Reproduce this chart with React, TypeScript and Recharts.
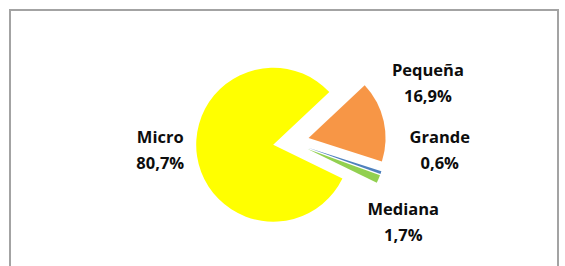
import { PieChart, Pie, Cell } from 'recharts'

// Distribución de empresas por tamaño
const categories = ['Micro', 'Pequeña', 'Grande', 'Mediana']
const shares = [80.7, 16.9, 0.6, 1.7]
const colors = ['#FFFF00', '#F79646', '#4F81BD', '#92D050']

const data = categories.map((name, i) => ({ name, value: shares[i] }))

const W = 565
const H = 266
const CX = 291
const CY = 142
const R = 77
const START = 334 // slices run clockwise from here
const EXPLODE = 18

const total = shares.reduce((a, b) => a + b, 0)
const mids = (() => {
  let acc = 0
  return shares.map((v) => {
    const m = START - ((acc + v / 2) / total) * 360
    acc += v
    return m
  })
})()
const rad = Math.PI / 180

// label placement relative to the slice mid angle (Excel "best fit" look)
const labelPlace: Record<string, { dA: number; r: number }> = {
  Micro: { dA: -5, r: 131 },
  Pequeña: { dA: 10.5, r: 149 },
  Grande: { dA: 15.7, r: 149 },
  Mediana: { dA: -12.6, r: 138 },
}

const fmt = (v: number) => v.toFixed(1).replace('.', ',') + '%'

const renderLabel = (p: any) => {
  const place = labelPlace[p.name]
  const a = (p.midAngle + place.dA) * rad
  const x = p.cx + place.r * Math.cos(a)
  const y = p.cy - place.r * Math.sin(a)
  return (
    <text
      x={x}
      y={y}
      textAnchor="middle"
      fill="#0d0d0d"
      fontFamily="'Open Sans', sans-serif"
      fontWeight={700}
      fontSize={16.5}
    >
      <tspan x={x} y={y - 7}>{p.name}</tspan>
      <tspan x={x} y={y + 19}>{fmt(p.value)}</tspan>
    </text>
  )
}

export default function App() {
  return (
    <div style={{ position: 'absolute', left: 0, top: 0, width: W, height: H, background: '#fff', overflow: 'hidden' }}>
      <div
        style={{
          position: 'absolute',
          left: 9,
          top: 9,
          width: 546,
          height: 300,
          border: '2px solid #a3a3a3',
        }}
      />
      <div style={{ position: 'absolute', left: 0, top: 0 }}>
        <PieChart width={W} height={H} margin={{ top: 0, right: 0, bottom: 0, left: 0 }}>
          {categories.map((name, i) => (
            <Pie
              key={name}
              data={data}
              dataKey="value"
              nameKey="name"
              cx={CX + EXPLODE * Math.cos(mids[i] * rad)}
              cy={CY - EXPLODE * Math.sin(mids[i] * rad)}
              outerRadius={R}
              startAngle={START}
              endAngle={START - 360}
              stroke="none"
              isAnimationActive={false}
            >
              {data.map((d, j) => (
                <Cell key={d.name} fill={j === i ? colors[j] : 'none'} />
              ))}
            </Pie>
          ))}
          <Pie
            data={data}
            dataKey="value"
            nameKey="name"
            cx={CX}
            cy={CY}
            outerRadius={R}
            startAngle={START}
            endAngle={START - 360}
            stroke="none"
            fill="none"
            label={renderLabel}
            labelLine={false}
            isAnimationActive={false}
          >
            {data.map((d) => (
              <Cell key={d.name} fill="none" />
            ))}
          </Pie>
        </PieChart>
      </div>
    </div>
  )
}
